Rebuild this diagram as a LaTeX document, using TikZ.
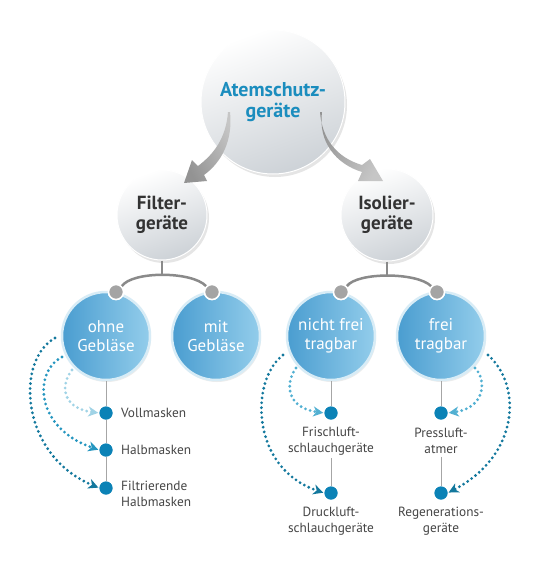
\documentclass[tikz,border=0pt]{standalone}
\usepackage{fontspec}
\setmainfont{PT Sans}
\usetikzlibrary{arrows.meta,shadows}
\definecolor{topblue}{HTML}{1B8DBE}
\definecolor{darktxt}{HTML}{333333}
\definecolor{lbltxt}{HTML}{454545}
\definecolor{dotblue}{HTML}{0B82B6}
\definecolor{conngrey}{HTML}{8A8A8A}
\definecolor{gdot}{HTML}{A4A4A4}
\definecolor{bluedark}{HTML}{4A9DD0}
\definecolor{bluelight}{HTML}{93CDEB}
\definecolor{bluerim}{HTML}{D8ECF6}
\definecolor{greyend}{HTML}{CDD2D7}
\definecolor{arrdark}{HTML}{13789D}
\definecolor{arrmid}{HTML}{2596C0}
\definecolor{arrlight}{HTML}{A0D3E6}
\definecolor{arrmidl}{HTML}{52B0D2}
\tikzset{
  greycirc/.style={circle, inner sep=0pt, draw=white, line width=1pt,
    top color=white, bottom color=greyend, shading angle=20,
    drop shadow={opacity=0.2, shadow xshift=2pt, shadow yshift=-3pt},
    text=darktxt, align=center, font=\bfseries\fontsize{19}{20}\selectfont},
  bluecirc/.style={circle, inner sep=0pt, minimum size=88pt, draw=bluerim, line width=2.5pt,
    left color=bluedark, right color=bluelight,
    drop shadow={opacity=0.15, shadow xshift=1pt, shadow yshift=-2pt},
    text=white, align=center, font=\fontsize{17}{18.5}\selectfont},
  greydot/.style={circle, inner sep=0pt, minimum size=15pt, fill=gdot, draw=white, line width=1.5pt},
  bluedot/.style={circle, inner sep=0pt, minimum size=13pt, fill=dotblue},
  conn/.style={draw=conngrey, line width=2.5pt},
  vline/.style={draw=gray!70, line width=1pt},
  lbl/.style={text=lbltxt, font=\fontsize{13.3}{16}\selectfont, inner sep=0pt},
  dotarr/.style={line width=3.1pt, dash pattern=on 0pt off 4.9pt, line cap=round,
    -{Stealth[length=10pt,width=10pt,inset=3pt]}, shorten >=1pt},
}
\begin{document}
\begin{tikzpicture}[x=1pt,y=-1pt]
\useasboundingbox[fill=white] (0,0) rectangle (540,565);

% main circles
\node[greycirc, minimum size=144pt, font=\bfseries\fontsize{20}{21}\selectfont, text=topblue] (top) at (273,102) {Atemschutz-\\geräte};
\node[greycirc, minimum size=90pt] (filt) at (162,215) {Filter-\\geräte};
\node[greycirc, minimum size=92pt] (iso) at (387,215) {Isolier-\\geräte};

% curved grey arrows from top circle
\shade[left color=gray!45, right color=gray!85, shading angle=-60]
  (230,112) .. controls (233,140) and (222,162) .. (204,175)
  -- (207,181) -- (184,183) -- (192,160) -- (198,166)
  .. controls (214,154) and (226,138) .. (228,112) -- cycle;
\shade[left color=gray!85, right color=gray!45, shading angle=60]
  (320,112) .. controls (322,140) and (338,158) .. (362,165)
  -- (370,159) -- (383,181) -- (358,181) -- (362,172)
  .. controls (336,164) and (318,142) .. (322,112) -- cycle;

% blue circles
\node[bluecirc] (ohne) at (106,336) {ohne\\Gebläse};
\node[bluecirc] (mit) at (216,336) {mit\\Gebläse};
\node[bluecirc] (nfrei) at (331,336) {nicht frei\\tragbar};
\node[bluecirc] (frei) at (441,336) {frei\\tragbar};

% grey connectors
\coordinate (jf) at (162,275);
\coordinate (ji) at (387,276);
\draw[conn] (filt.south) -- (jf);
\draw[conn] (iso.south) -- (ji);
\node[greydot] (g1) at (116,292) {};
\node[greydot] (g2) at (212,292) {};
\node[greydot] (g3) at (341,292) {};
\node[greydot] (g4) at (437,292) {};
\draw[conn] (g1.north east) .. controls (132,271) and (192,271) .. (g2.north west);
\draw[conn] (g3.north east) .. controls (357,272) and (417,272) .. (g4.north west);
\node[greydot] at (g1) {};
\node[greydot] at (g2) {};
\node[greydot] at (g3) {};
\node[greydot] at (g4) {};

% blue dots
\node[bluedot] (d1) at (106,413) {};
\node[bluedot] (d2) at (106,450) {};
\node[bluedot] (d3) at (106,488) {};
\node[bluedot] (d4) at (331,413) {};
\node[bluedot] (d5) at (331,493) {};
\node[bluedot] (d6) at (441,413) {};
\node[bluedot] (d7) at (441,493) {};

% labels
\node[lbl, anchor=west] (l1) at (121,413) {Vollmasken};
\node[lbl, anchor=west] (l2) at (121,450) {Halbmasken};
\node[lbl, anchor=north west, align=left] (l3) at (121,481) {Filtrierende\\Halbmasken};
\node[lbl, align=center] (l4) at (331,441) {Frischluft-\\schlauchgeräte};
\node[lbl, align=center] (l5) at (331,521) {Druckluft-\\schlauchgeräte};
\node[lbl, align=center] (l6) at (441,441) {Pressluft-\\atmer};
\node[lbl, align=center] (l7) at (441,521) {Regenerations-\\geräte};

% vertical thin lines
\draw[vline] (ohne.south) -- (d1) -- (d2) -- (d3);
\draw[vline] (nfrei.south) -- (d4);
\draw[vline] (frei.south) -- (d6);
\draw[vline] (l4.south) ++(0,3) -- (d5);
\draw[vline] (l6.south) ++(0,3) -- (d7);
\node[bluedot] at (d1) {};
\node[bluedot] at (d2) {};
\node[bluedot] at (d3) {};
\node[bluedot] at (d4) {};
\node[bluedot] at (d5) {};
\node[bluedot] at (d6) {};
\node[bluedot] at (d7) {};

% dotted arrows
\coordinate (s1) at (55,338);
\coordinate (s2) at (62,357);
\coordinate (s3) at (72,370);
\coordinate (s4) at (283,355);
\coordinate (s5) at (296,368);
\coordinate (s6) at (488,355);
\coordinate (s7) at (475,368);
\draw[dotarr, arrdark] (s1) .. controls (15,360) and (20,455) .. (d3.west);
\draw[dotarr, arrmid] (s2) .. controls (33,372) and (35,428) .. (d2.west);
\draw[dotarr, arrlight] (s3) .. controls (60,385) and (62,408) .. (d1.west);
\draw[dotarr, arrdark] (s4) .. controls (250,380) and (250,468) .. (d5.west);
\draw[dotarr, arrmidl] (s5) .. controls (284,385) and (288,408) .. (d4.west);
\draw[dotarr, arrdark] (s6) .. controls (522,385) and (520,455) .. (d7.east);
\draw[dotarr, arrmidl] (s7) .. controls (487,380) and (485,408) .. (d6.east);
\end{tikzpicture}
\end{document}
